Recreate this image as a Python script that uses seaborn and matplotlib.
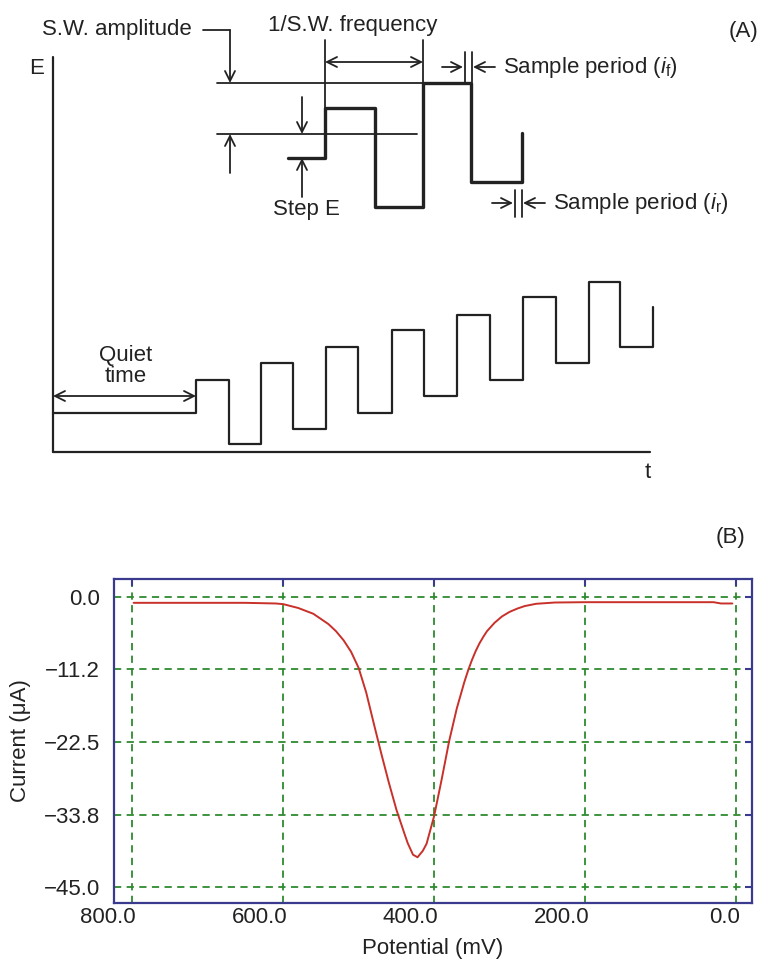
import seaborn as sns
import matplotlib.pyplot as plt
import matplotlib.transforms as mtransforms

# (B) square wave voltammogram
potential = [798, 750, 700, 650, 610, 600, 580, 560, 540, 530, 520, 510, 500, 490,
             480, 470, 460, 450, 440, 435, 428, 422, 415, 410, 400, 390, 380, 370,
             360, 355, 350, 345, 340, 335, 330, 320, 310, 300, 290, 280, 265, 240,
             200, 150, 100, 50, 30, 20, 5]
current = [-0.9, -0.9, -0.9, -0.9, -1.0, -1.1, -1.7, -2.6, -4.2, -5.3, -6.7, -8.5,
           -11.0, -14.8, -19.6, -24.3, -28.8, -33.0, -36.5, -38.2, -40.0, -40.4,
           -39.4, -38.3, -34.0, -28.3, -22.3, -17.3, -13.2, -11.4, -9.8, -8.4,
           -7.2, -6.2, -5.3, -4.0, -3.0, -2.3, -1.8, -1.4, -1.05, -0.85, -0.8,
           -0.8, -0.8, -0.8, -0.8, -1.0, -1.0]
x_ticks = [800.0, 600.0, 400.0, 200.0, 0.0]
y_ticks = [0.0, -11.2, -22.5, -33.8, -45.0]

# (A) waveform schematic, drawing units (pixels, y pointing down)
wave_t = [53, 196, 229, 261, 293, 326, 358, 392, 424, 457, 490, 523, 556, 589, 620, 653]
wave_E = [413, 380, 444, 363, 429, 347, 413, 330, 396, 315, 380, 297, 363, 282, 347, 307]
pulse_t = [288, 325, 375, 423, 471, 522]
pulse_E = [158, 108, 207, 83, 182, 133]

sns.set_style("white")
plt.rcParams['font.family'] = ['Liberation Sans', 'DejaVu Sans']
plt.rcParams['mathtext.fontset'] = 'custom'
plt.rcParams['mathtext.rm'] = 'Liberation Sans'
plt.rcParams['mathtext.it'] = 'Liberation Sans:italic'

ink = '#222222'
navy = '#3a3a8e'
green = '#2e8a2e'
red = '#c8302a'
fs = 16

W, H = 762, 971
fig = plt.figure(figsize=(W / 100, H / 100), dpi=100)

# ---------- panel A ----------
axA = fig.add_axes([0, 0, 1, 1])
axA.set_xlim(0, W)
axA.set_ylim(H, 0)
axA.axis('off')

# E / t axes
axA.plot([53, 53], [57, 452], color=ink, lw=1.6)
axA.plot([53, 650], [452, 452], color=ink, lw=1.6)
axA.text(37, 68, 'E', fontsize=fs, ha='center', va='center', color=ink)
axA.text(648, 473, 't', fontsize=fs, ha='center', va='center', color=ink)

sns.lineplot(x=wave_t, y=wave_E, ax=axA, color=ink, lw=1.6, sort=False,
             estimator=None, drawstyle='steps-post')
sns.lineplot(x=pulse_t, y=pulse_E, ax=axA, color=ink, lw=2.4, sort=False,
             estimator=None, drawstyle='steps-post')


def arrow(x0, y0, x1, y1, style='->'):
    axA.annotate('', xy=(x1, y1), xytext=(x0, y0),
                 arrowprops=dict(arrowstyle=style, color=ink, lw=1.3,
                                 shrinkA=0, shrinkB=0, mutation_scale=18))


# quiet time
arrow(wave_t[0], 396, wave_t[1], 396, '<->')
axA.text(126, 366, 'Quiet\ntime', fontsize=fs, ha='center', va='center',
         color=ink, linespacing=1.05)

# reference levels for amplitude
axA.plot([217, pulse_t[3]], [pulse_E[3], pulse_E[3]], color=ink, lw=1.3)
axA.plot([217, 417], [134, 134], color=ink, lw=1.3)

# S.W. amplitude
axA.text(42, 30, 'S.W. amplitude', fontsize=fs, ha='left', va='center', color=ink)
axA.plot([203, 230], [30, 30], color=ink, lw=1.3)
arrow(230, 30, 230, pulse_E[3])
arrow(230, 173, 230, 134)

# Step E
arrow(302, 97, 302, 134)
arrow(302, 197, 302, pulse_E[0])
axA.text(306, 210, 'Step E', fontsize=fs, ha='center', va='center', color=ink)

# 1/S.W. frequency
axA.text(268, 25, '1/S.W. frequency', fontsize=fs, ha='left', va='center', color=ink)
axA.plot([pulse_t[1], pulse_t[1]], [40, pulse_E[1]], color=ink, lw=1.3)
axA.plot([pulse_t[3], pulse_t[3]], [40, pulse_E[3]], color=ink, lw=1.3)
arrow(pulse_t[1], 62, pulse_t[3], 62, '<->')

# sample periods
for xa, xb, y0, y1, ym in [(465, 472, 52, 82, 67), (515, 522, 190, 217, 203)]:
    axA.plot([xa, xa], [y0, y1], color=ink, lw=1.3)
    axA.plot([xb, xb], [y0, y1], color=ink, lw=1.3)
    arrow(xa - 23, ym, xa - 2, ym)
    arrow(xb + 23, ym, xb + 1, ym)
axA.text(503, 67, r'Sample period ($\mathit{i}_\mathrm{f}$)', fontsize=fs,
         ha='left', va='center', color=ink)
axA.text(553, 203, r'Sample period ($\mathit{i}_\mathrm{r}$)', fontsize=fs,
         ha='left', va='center', color=ink)

axA.text(758, 32, '(A)', fontsize=fs, ha='right', va='center', color=ink)
axA.text(745, 538, '(B)', fontsize=fs, ha='right', va='center', color=ink)

# ---------- panel B ----------
axB = fig.add_axes([114 / W, 1 - 903 / H, 638 / W, 324 / H])
sns.lineplot(x=potential, y=current, ax=axB, color=red, lw=1.4, sort=False,
             estimator=None)
axB.set_xlim(824, -21)
axB.set_ylim(-47.5, 2.8)
axB.set_xticks(x_ticks)
axB.set_xticklabels([f'{v:.1f}' for v in x_ticks])
axB.set_yticks(y_ticks)
axB.set_yticklabels([f'{v:.1f}'.replace('-', '\u2212') for v in y_ticks])
axB.grid(True, color=green, ls=(0, (4, 3)), lw=1.3)
axB.tick_params(axis='both', direction='in', length=5, width=1.5, color=navy,
                labelcolor=ink, labelsize=fs, top=True, right=True)
axB.tick_params(axis='x', pad=3)
axB.tick_params(axis='y', pad=10)
offset = mtransforms.ScaledTranslation(4 / 100, 0, fig.dpi_scale_trans)
for lab in axB.get_xticklabels():
    lab.set_horizontalalignment('right')
    lab.set_transform(lab.get_transform() + offset)
for sp in axB.spines.values():
    sp.set_color(navy)
    sp.set_linewidth(1.6)
axB.set_xlabel('Potential (mV)', fontsize=fs, color=ink, labelpad=7)
axB.set_ylabel('Current (\u03bcA)', fontsize=fs, color=ink, labelpad=9)

fig.savefig('out.png', dpi=100, facecolor='white')
